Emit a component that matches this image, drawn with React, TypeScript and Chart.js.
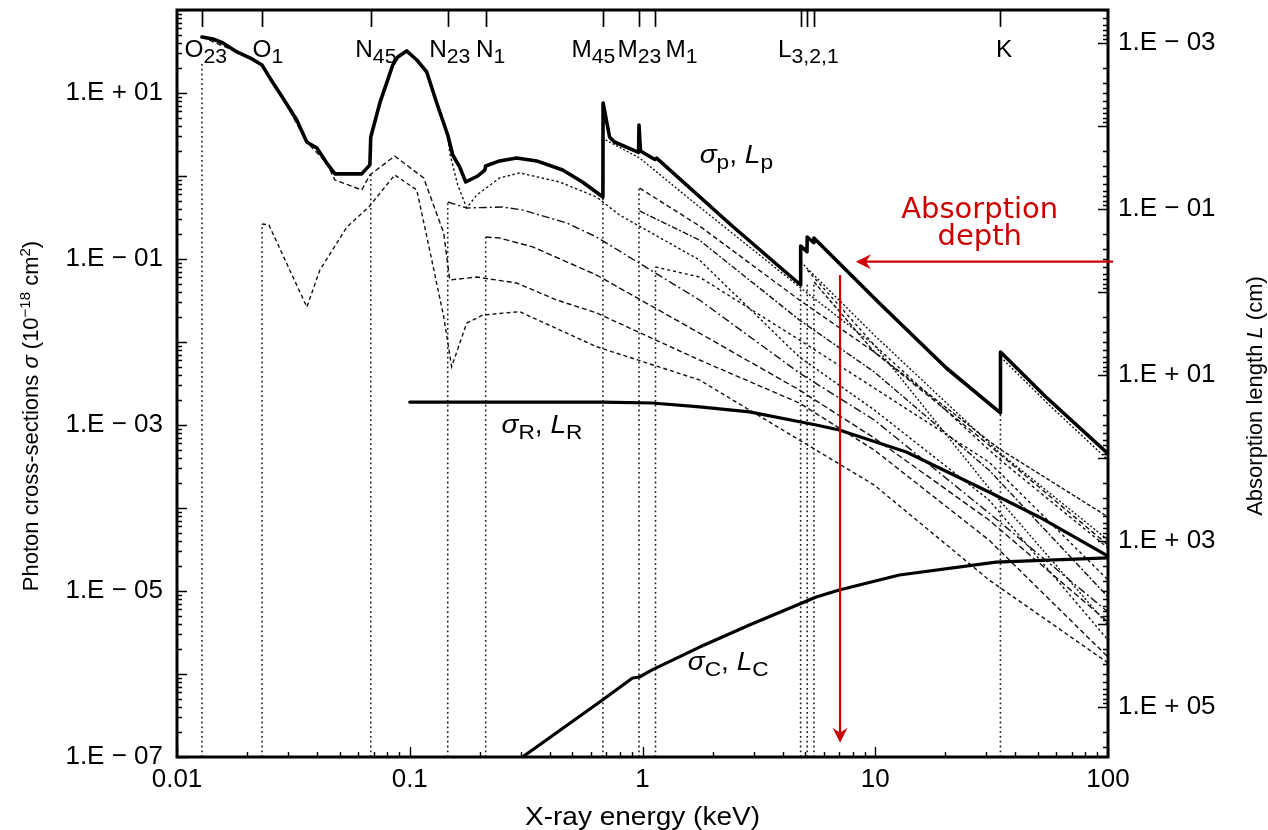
import React, { useEffect, useRef } from "react";
import { Chart, registerables } from "chart.js";

Chart.register(...registerables);

const FONT = "'Liberation Sans', Arial, Helvetica, sans-serif";
const RED_FONT = "'DejaVu Sans', Verdana, sans-serif";
const RED = "#cc0000";

// ---------- axes ----------
const X_MIN = 0.01;
const X_MAX = 100;
const Y_MIN = 1e-7;
const Y_MAX = 1e2;
const L_TOP = 3.98e-4;
const L_BOTTOM = 3.98e5;

const xTickValues = [0.01, 0.1, 1, 10, 100];
const xTickLabels = ["0.01", "0.1", "1", "10", "100"];
const yTickValues = [1e-7, 1e-5, 1e-3, 1e-1, 1e1];
const yTickLabels = ["1.E \u2212 07", "1.E \u2212 05", "1.E \u2212 03", "1.E \u2212 01", "1.E + 01"];
const lTickValues = [1e-3, 1e-1, 1e1, 1e3, 1e5];
const lTickLabels = ["1.E \u2212 03", "1.E \u2212 01", "1.E + 01", "1.E + 03", "1.E + 05"];

// ---------- total photoabsorption sigma_p ----------
const pE = [0.0128, 0.01427, 0.01576, 0.0181, 0.021, 0.0232, 0.02506, 0.0285, 0.0327, 0.0361, 0.0399, 0.044, 0.0477, 0.0622, 0.0674, 0.068, 0.0744, 0.0845, 0.0888, 0.097, 0.1072, 0.1183, 0.1306, 0.1456, 0.153, 0.164, 0.174, 0.196, 0.21, 0.212, 0.243, 0.288, 0.351, 0.454, 0.552, 0.676, 0.677, 0.722, 0.758, 0.962, 0.966, 0.98, 1.13, 1.15, 2.43, 4.78, 4.782, 5.09, 5.1, 5.44, 5.45, 10.4, 20.2, 34.5, 34.52, 54.0, 100];
const pS = [47.3, 44.7, 40.0, 31.2, 25.7, 21.7, 15.2, 8.71, 4.73, 2.57, 2.17, 1.43, 1.06, 1.06, 1.36, 2.95, 7.59, 21.7, 27.2, 32.1, 25.0, 17.9, 7.59, 3.12, 1.79, 1.28, 0.847, 1.0, 1.18, 1.32, 1.52, 1.65, 1.52, 1.18, 0.847, 0.558, 7.59, 2.95, 2.57, 1.93, 4.11, 2.0, 1.58, 1.64, 0.25, 0.0486, 0.1435, 0.1225, 0.184, 0.157, 0.179, 0.0295, 0.00486, 0.0014, 0.00759, 0.00219, 4.5e-4];

// ---------- Rayleigh and Compton ----------
const rE = [0.1, 0.673, 1.1, 1.76, 2.88, 5.58, 7.0, 13.6, 30.8, 50.6, 100];
const rS = [0.00189, 0.00189, 0.00184, 0.00165, 0.00144, 0.001, 8.7e-4, 4.73e-4, 1.56e-4, 7.8e-5, 2.64e-5];
const cE = [0.305, 0.673, 0.906, 0.97, 1.1, 1.76, 2.88, 5.58, 7.0, 12.7, 33.0, 100];
const cS = [1e-7, 4.86e-7, 8.95e-7, 9.2e-7, 1.12e-6, 2.11e-6, 3.89e-6, 8.47e-6, 1.03e-5, 1.56e-5, 2.23e-5, 2.5e-5];

// ---------- subshell partial cross-sections ----------
const o23E = [0.0128, 0.0181, 0.0232, 0.0285, 0.0361, 0.044, 0.0477, 0.0622, 0.0674, 0.0862, 0.1148, 0.1399, 0.1485, 0.194, 0.2205, 0.2878, 0.4275, 0.6347, 1.757, 4.72, 9.9, 30.8, 100];
const o23S = [47.3, 31.2, 21.7, 8.71, 2.57, 1.43, 0.895, 0.678, 1.03, 1.74, 0.946, 0.206, 0.0558, 0.0607, 0.0574, 0.0514, 0.0321, 0.0224, 0.00607, 0.00184, 5.0e-4, 4.11e-5, 1.6e-6];
const o1E = [0.02317, 0.02482, 0.03614, 0.0411, 0.0537, 0.0667, 0.0862, 0.1072, 0.1218, 0.1399, 0.1514, 0.1757, 0.2057, 0.2965, 0.6347, 1.757, 4.72, 9.9, 30.8, 100];
const o1S = [0.264, 0.257, 0.0264, 0.0737, 0.243, 0.423, 1.03, 0.678, 0.128, 0.0202, 0.00504, 0.0169, 0.0211, 0.0232, 0.00877, 0.00349, 6.59e-4, 1.89e-4, 1.36e-5, 1.36e-6];
const n45E = [0.068, 0.0744, 0.0845, 0.0888, 0.097, 0.1072, 0.1183, 0.1306, 0.1456, 0.1485, 0.1607, 0.1757, 0.194, 0.2432, 0.2965, 0.4406, 0.6347, 0.7962, 1.757, 4.72, 9.9, 30.8, 100];
const n45S = [2.95, 7.59, 21.7, 27.2, 32.1, 25.0, 17.9, 7.59, 3.12, 1.89, 0.78, 0.412, 0.59, 0.946, 1.09, 0.847, 0.558, 0.339, 0.0973, 0.00659, 0.00152, 1.25e-4, 2.57e-6];
const n23E = [0.1456, 0.1757, 0.2506, 0.3055, 0.4721, 0.6347, 1.757, 4.72, 9.9, 30.8, 100];
const n23S = [0.486, 0.412, 0.423, 0.389, 0.272, 0.184, 0.0321, 0.00424, 0.00115, 8.7e-5, 5.58e-6];
const n1E = [0.212, 0.2432, 0.3373, 0.6347, 1.757, 4.72, 9.9, 30.8, 100];
const n1S = [0.184, 0.179, 0.14, 0.0641, 0.0128, 0.00264, 6.97e-4, 7.17e-5, 4.24e-6];
const m45E = [0.694, 0.971, 1.757, 4.72, 9.9, 30.8, 100];
const m45S = [2.72, 1.65, 0.423, 0.046, 0.0092, 1.74e-4, 3.89e-6];
const m23aE = [0.971, 1.757, 4.72, 9.9, 30.8, 100];
const m23aS = [0.716, 0.25, 0.0321, 0.00758, 5.74e-4, 3.58e-5];
const m23bE = [0.971, 1.757, 4.72, 9.9, 30.8, 100];
const m23bS = [0.379, 0.169, 0.0184, 0.00436, 2.87e-4, 8.47e-6];
const m1E = [1.137, 1.757, 4.72, 9.9, 30.8, 100];
const m1S = [0.0801, 0.0607, 0.0106, 0.00279, 3.58e-4, 1.36e-5];
const l3E = [4.79, 9.9, 34.0, 100];
const l3S = [0.092, 0.0121, 4.7e-4, 4.11e-5];
const l2E = [5.11, 9.9, 34.0, 100];
const l2S = [0.0737, 0.0092, 3.9e-4, 3.3e-5];
const l1E = [5.46, 9.9, 34.0, 100];
const l1S = [0.0528, 0.0076, 5.2e-4, 7.8e-5];
const kE = [34.55, 55.8, 100];
const kS = [0.00659, 0.00175, 3.79e-4];

// ---------- absorption edges ----------
const edgeE = [0.0128, 0.0232, 0.068, 0.1456, 0.212, 0.676, 0.966, 1.137, 4.78, 5.1, 5.45, 34.5];
const edgeTop = [23.6, 0.264, 1.09, 0.486, 0.184, 0.558, 0.716, 0.0801, 0.0486, 0.05, 0.05, 0.0014];
const edgeLabelMain = ["O", "O", "N", "N", "N", "M", "M", "M", "L", "K"];
const edgeLabelSub = ["23", "1", "45", "23", "1", "45", "23", "1", "3,2,1", ""];
const edgeLabelE = [0.0133, 0.0246, 0.0715, 0.1485, 0.2226, 0.615, 0.97, 1.47, 5.16, 35.8];

// ---------- annotations ----------
const annoSub = ["p", "R", "C"];
const annoE = [1.76, 0.248, 1.565];
const annoS = [1.44, 8.0e-4, 1.12e-6];
const redLines = ["Absorption", "depth"];
const redTextE = 28.1;
const redTextS = [0.312, 0.1476];
const hArrowS = 0.0928;
const hArrowTipE = 8.26;
const vArrowE = 7.06;
const vArrowTopS = 0.0641;
const vArrowTipS = 1.48e-7;

type Part = { t: string; size: number; italic?: boolean; dy?: number };

const pts = (e: number[], s: number[]) => e.map((x, i) => ({ x, y: s[i] }));

function setFont(ctx: CanvasRenderingContext2D, p: Part, family: string) {
  ctx.font = `${p.italic ? "italic " : ""}${p.size}px ${family}`;
}
function drawParts(ctx: CanvasRenderingContext2D, parts: Part[], x: number, y: number, align: "left" | "center", family: string, sx = 1) {
  const widths = parts.map((p) => {
    setFont(ctx, p, family);
    return ctx.measureText(p.t).width;
  });
  const total = widths.reduce((a, b) => a + b, 0);
  ctx.save();
  ctx.translate(x, y);
  ctx.scale(sx, 1);
  let cx = align === "center" ? -total / 2 : 0;
  ctx.textAlign = "left";
  ctx.textBaseline = "alphabetic";
  parts.forEach((p, i) => {
    setFont(ctx, p, family);
    ctx.fillText(p.t, cx, p.dy || 0);
    cx += widths[i];
  });
  ctx.restore();
}

function arrowHead(ctx: CanvasRenderingContext2D, tx: number, ty: number, dx: number, dy: number) {
  const len = 15, half = 7.5, notch = 10;
  const px = -dy, py = dx;
  ctx.beginPath();
  ctx.moveTo(tx, ty);
  ctx.lineTo(tx - dx * len + px * half, ty - dy * len + py * half);
  ctx.lineTo(tx - dx * notch, ty - dy * notch);
  ctx.lineTo(tx - dx * len - px * half, ty - dy * len - py * half);
  ctx.closePath();
  ctx.fill();
}

const decorPlugin = {
  id: "decor",
  beforeDraw(chart: any) {
    const { ctx, width, height } = chart;
    ctx.save();
    ctx.fillStyle = "#fff";
    ctx.fillRect(0, 0, width, height);
    ctx.restore();
  },
  afterDatasetsDraw(chart: any) {
    const { ctx, chartArea: a, scales } = chart;
    const xs = scales.x, ys = scales.y, ls = scales.y2;
    ctx.save();
    ctx.strokeStyle = "#000";
    ctx.fillStyle = "#000";

    // inward ticks
    ctx.lineWidth = 1.4;
    ctx.beginPath();
    for (let k = -7; k <= 2; k++) {
      for (let m = 1; m <= 9; m++) {
        const v = m * Math.pow(10, k);
        if (v < Y_MIN * 0.999 || v > Y_MAX * 1.001) continue;
        const py = Math.round(ys.getPixelForValue(v)) + 0.5;
        const len = m === 1 ? 10 : 5;
        ctx.moveTo(a.left, py);
        ctx.lineTo(a.left + len, py);
      }
    }
    for (let k = -4; k <= 5; k++) {
      for (let m = 1; m <= 9; m++) {
        const v = m * Math.pow(10, k);
        if (v < L_TOP || v > L_BOTTOM) continue;
        const py = Math.round(ls.getPixelForValue(v)) + 0.5;
        const len = m === 1 ? 10 : 5;
        ctx.moveTo(a.right, py);
        ctx.lineTo(a.right - len, py);
      }
    }
    for (let k = -2; k <= 2; k++) {
      for (let m = 1; m <= 9; m++) {
        const v = m * Math.pow(10, k);
        if (v < X_MIN * 0.999 || v > X_MAX * 1.001) continue;
        const px = Math.round(xs.getPixelForValue(v)) + 0.5;
        const len = m === 1 ? 10 : 5;
        ctx.moveTo(px, a.bottom);
        ctx.lineTo(px, a.bottom - len);
      }
    }
    ctx.stroke();

    // top edge ticks
    ctx.lineWidth = 1.7;
    ctx.beginPath();
    edgeE.forEach((e) => {
      const px = Math.round(xs.getPixelForValue(e)) + 0.5;
      ctx.moveTo(px, a.top);
      ctx.lineTo(px, a.top + 17);
    });
    ctx.stroke();

    // frame
    ctx.lineWidth = 3;
    ctx.strokeRect(a.left, a.top, a.right - a.left, a.bottom - a.top);

    // edge labels
    edgeLabelMain.forEach((m, i) => {
      const parts: Part[] = [{ t: m, size: 23 }];
      if (edgeLabelSub[i]) parts.push({ t: edgeLabelSub[i], size: 20, dy: 6 });
      drawParts(ctx, parts, xs.getPixelForValue(edgeLabelE[i]), a.top + 47, "center", FONT, 1.06);
    });

    // curve labels
    annoSub.forEach((s, i) => {
      const parts: Part[] = [
        { t: "\u03c3", size: 26, italic: true },
        { t: s, size: 21, dy: 6 },
        { t: ", ", size: 26 },
        { t: "L", size: 26, italic: true },
        { t: s, size: 21, dy: 6 },
      ];
      drawParts(ctx, parts, xs.getPixelForValue(annoE[i]), ys.getPixelForValue(annoS[i]), "left", FONT, 1.08);
    });

    // axis titles
    drawParts(ctx, [{ t: "X-ray energy (keV)", size: 25 }], (a.left + a.right) / 2, 825, "center", FONT, 1.12);

    ctx.save();
    ctx.translate(38, 416);
    ctx.rotate(-Math.PI / 2);
    drawParts(ctx, [
      { t: "Photon cross-sections ", size: 22 },
      { t: "\u03c3", size: 22, italic: true },
      { t: " (10", size: 22 },
      { t: "\u221218", size: 15, dy: -8 },
      { t: " cm", size: 22 },
      { t: "2", size: 15, dy: -8 },
      { t: ")", size: 22 },
    ], 0, 0, "center", FONT);
    ctx.restore();

    ctx.save();
    ctx.translate(1262, 396);
    ctx.rotate(-Math.PI / 2);
    drawParts(ctx, [
      { t: "Absorption length ", size: 22 },
      { t: "L", size: 22, italic: true },
      { t: " (cm)", size: 22 },
    ], 0, 0, "center", FONT);
    ctx.restore();

    // red annotation
    ctx.fillStyle = RED;
    ctx.strokeStyle = RED;
    redLines.forEach((t, i) => {
      drawParts(ctx, [{ t, size: 29 }], xs.getPixelForValue(redTextE), ys.getPixelForValue(redTextS[i]), "center", RED_FONT);
    });
    ctx.lineWidth = 2.2;
    const hy = ys.getPixelForValue(hArrowS);
    const hTip = xs.getPixelForValue(hArrowTipE);
    ctx.beginPath();
    ctx.moveTo(a.right + 5, hy);
    ctx.lineTo(hTip + 10, hy);
    ctx.stroke();
    arrowHead(ctx, hTip, hy, -1, 0);
    const vx = xs.getPixelForValue(vArrowE);
    const vTop = ys.getPixelForValue(vArrowTopS);
    const vTip = ys.getPixelForValue(vArrowTipS);
    ctx.beginPath();
    ctx.moveTo(vx, vTop);
    ctx.lineTo(vx, vTip - 10);
    ctx.stroke();
    arrowHead(ctx, vx, vTip, 0, 1);

    ctx.restore();
  },
};

function solid(data: any[], width: number) {
  return { data, showLine: true, borderColor: "#000", borderWidth: width, pointRadius: 0, pointHoverRadius: 0, fill: false, tension: 0, borderJoinStyle: "round", borderCapStyle: "round" };
}
function dashed(data: any[], dash: number[], width = 1.4, color = "#111") {
  return { data, showLine: true, borderColor: color, borderWidth: width, borderDash: dash, pointRadius: 0, pointHoverRadius: 0, fill: false, tension: 0, borderCapStyle: "butt" };
}

export default function App() {
  const ref = useRef<HTMLCanvasElement>(null);
  useEffect(() => {
    const canvas = ref.current;
    if (!canvas) return;
    const datasets: any[] = [
      solid(pts(pE, pS), 3.6),
      solid(pts(rE, rS), 3.2),
      solid(pts(cE, cS), 3.2),
      dashed(pts(o23E, o23S), [5, 3]),
      dashed(pts(o1E, o1S), [4, 3]),
      dashed(pts(n45E, n45S), [2.5, 2.5]),
      dashed(pts(n23E, n23S), [8, 3, 2, 3]),
      dashed(pts(n1E, n1S), [6, 3]),
      dashed(pts(m45E, m45S), [2, 2]),
      dashed(pts(m23aE, m23aS), [5, 3]),
      dashed(pts(m23bE, m23bS), [6, 2, 2, 2]),
      dashed(pts(m1E, m1S), [3, 3]),
      dashed(pts(l3E, l3S), [2, 2]),
      dashed(pts(l2E, l2S), [3, 3]),
      dashed(pts(l1E, l1S), [4, 2]),
      dashed(pts(kE, kS), [2, 2]),
    ];
    edgeE.forEach((e, i) => {
      datasets.push(dashed([{ x: e, y: Y_MIN }, { x: e, y: edgeTop[i] }], [1.8, 3], 1.6, "#222"));
    });

    const tickFont = { family: FONT, size: 26 };
    const chart = new Chart(canvas, {
      type: "scatter",
      data: { datasets },
      options: {
        responsive: false,
        animation: false,
        devicePixelRatio: 1,
        events: [],
        layout: { padding: { top: 10, left: 0, right: 0, bottom: 0 } },
        plugins: { legend: { display: false }, tooltip: { enabled: false } },
        scales: {
          x: {
            type: "logarithmic",
            position: "bottom",
            min: X_MIN,
            max: X_MAX,
            grid: { display: false, drawTicks: false },
            border: { display: false },
            ticks: { autoSkip: false, maxRotation: 0, padding: 7, color: "#000", font: tickFont, callback: (_v: any, i: number) => xTickLabels[i] },
            afterBuildTicks: (s: any) => { s.ticks = xTickValues.map((value) => ({ value })); },
            afterFit: (s: any) => { s.height = 73; s.paddingLeft = 0; s.paddingRight = 0; s.paddingTop = 0; s.paddingBottom = 0; },
          },
          y: {
            type: "logarithmic",
            position: "left",
            min: Y_MIN,
            max: Y_MAX,
            grid: { display: false, drawTicks: false },
            border: { display: false },
            ticks: { autoSkip: false, padding: 14, color: "#000", font: tickFont, callback: (_v: any, i: number) => yTickLabels[i] },
            afterBuildTicks: (s: any) => { s.ticks = yTickValues.map((value) => ({ value })); },
            afterFit: (s: any) => { s.width = 177; s.paddingLeft = 0; s.paddingRight = 0; s.paddingTop = 0; s.paddingBottom = 0; },
          },
          y2: {
            type: "logarithmic",
            position: "right",
            reverse: true,
            min: L_TOP,
            max: L_BOTTOM,
            grid: { display: false, drawTicks: false },
            border: { display: false },
            ticks: { autoSkip: false, padding: 10, color: "#000", font: tickFont, callback: (_v: any, i: number) => lTickLabels[i] },
            afterBuildTicks: (s: any) => { s.ticks = lTickValues.map((value) => ({ value })); },
            afterFit: (s: any) => { s.width = 160; s.paddingLeft = 0; s.paddingRight = 0; s.paddingTop = 0; s.paddingBottom = 0; },
          },
        },
      } as any,
      plugins: [decorPlugin as any],
    });
    return () => chart.destroy();
  }, []);

  return (
    <div style={{ position: "absolute", left: 0, top: 0, width: 1268, height: 830, background: "#fff" }}>
      <canvas ref={ref} width={1268} height={830} style={{ display: "block", width: 1268, height: 830 }} />
    </div>
  );
}
